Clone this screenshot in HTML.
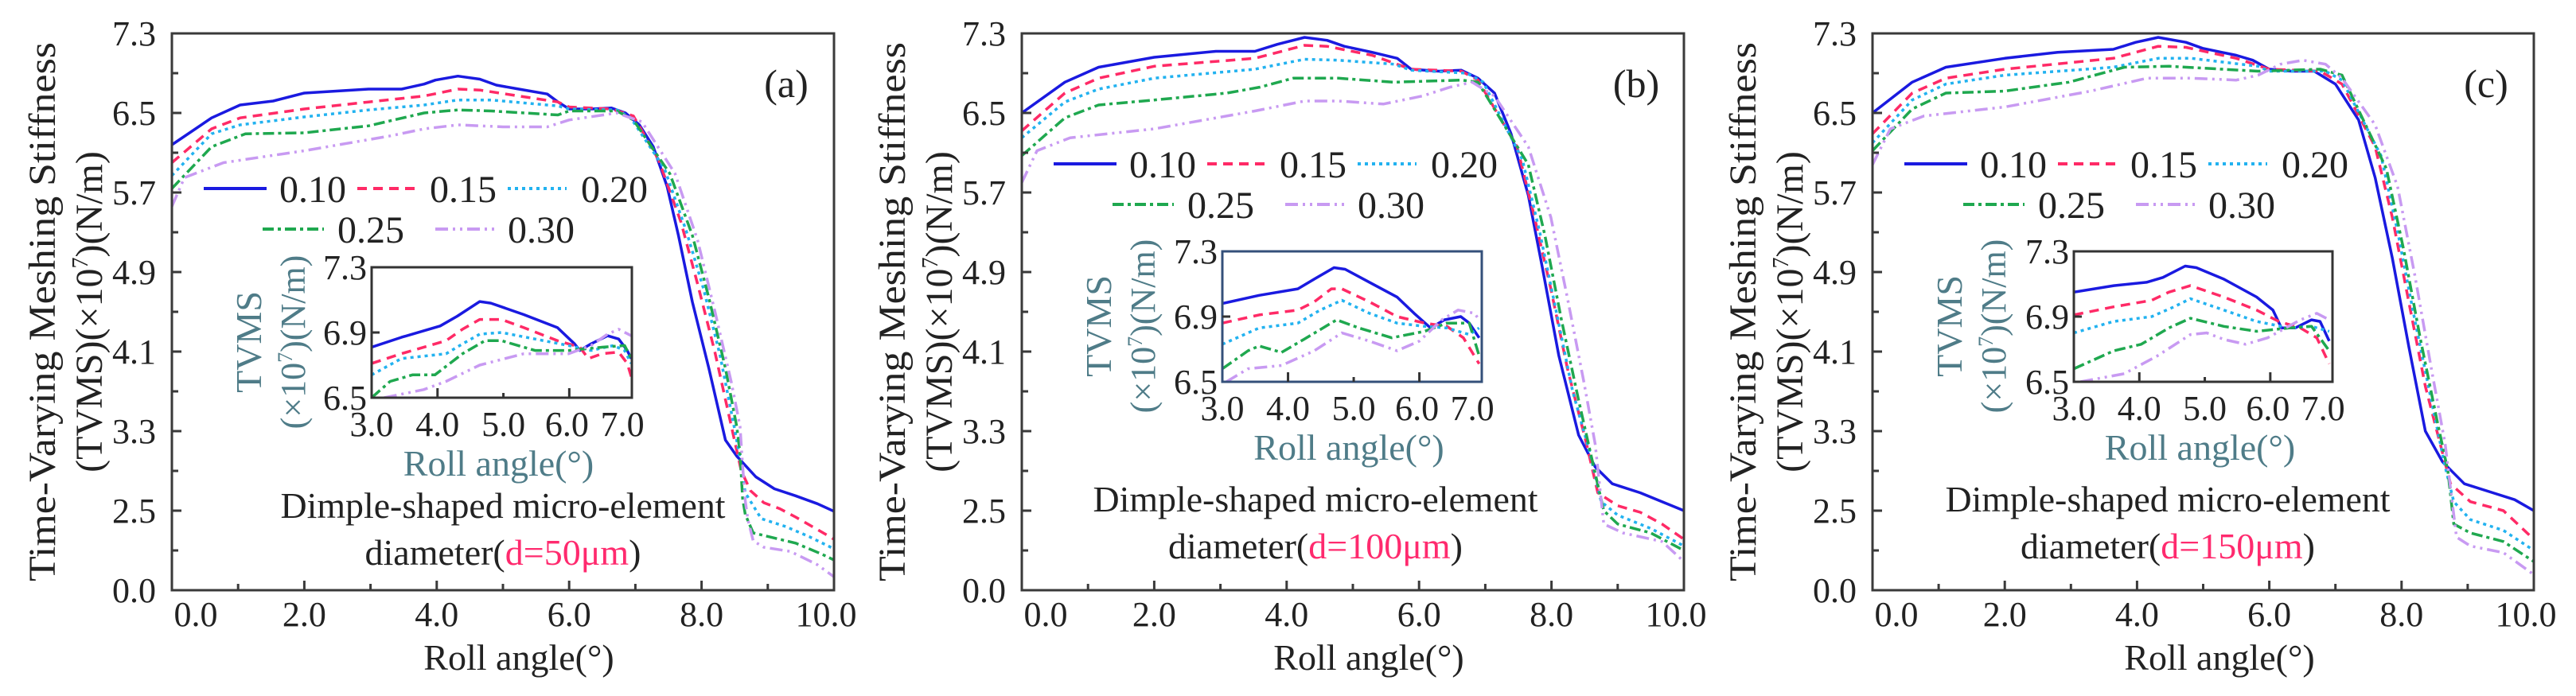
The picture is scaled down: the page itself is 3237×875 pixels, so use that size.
<!DOCTYPE html>
<html><head><meta charset="utf-8"><style>
html,body{margin:0;padding:0;background:#fff;}
svg{display:block;font-family:"Liberation Serif",serif;}
</style></head><body>
<svg id="fig" width="3237" height="875" viewBox="0 0 3237 875" xmlns="http://www.w3.org/2000/svg"></svg>
<script>
// ---------- data ----------
const seriesKeys = ["0.10","0.15","0.20","0.25","0.30"];
const yTickLabels = ["0.0","2.5","3.3","4.1","4.9","5.7","6.5","7.3"];
const xTickLabels = ["0.0","2.0","4.0","6.0","8.0","10.0"];
const insetXTickLabels = ["3.0","4.0","5.0","6.0","7.0"];
const insetYTickLabels = ["6.5","6.9","7.3"];
const panelTags = ["(a)","(b)","(c)"];
const diameters = ["d=50μm","d=100μm","d=150μm"];

const a10=[[0,6.18],[0.6,6.45],[1.03,6.58],[1.53,6.62],[2.0,6.70],[2.97,6.74],[3.47,6.74],[3.81,6.79],[3.98,6.83],[4.32,6.87],[4.65,6.84],[4.9,6.78],[5.24,6.74],[5.67,6.69],[5.83,6.61],[6.0,6.54],[6.34,6.54],[6.64,6.55],[6.85,6.50],[7.06,6.38],[7.27,6.16],[7.48,5.76],[7.65,5.27],[7.86,4.60],[8.11,3.93],[8.36,3.21],[8.53,3.05],[8.82,2.84],[9.1,2.72],[9.42,2.65],[9.75,2.57],[10,2.48]];
const a15=[[0,6.0],[0.6,6.34],[1.03,6.45],[2.0,6.54],[2.97,6.61],[3.81,6.67],[4.32,6.74],[4.65,6.73],[5.24,6.67],[5.83,6.61],[6.0,6.56],[6.64,6.54],[6.97,6.47],[7.35,6.03],[7.69,5.40],[7.94,4.78],[8.2,4.1],[8.45,3.35],[8.6,2.9],[8.74,2.7],[8.94,2.58],[9.18,2.52],[9.42,2.3],[9.63,2.05],[9.88,1.75],[10,1.6]];
const a20=[[0,5.87],[0.6,6.29],[1.03,6.38],[2,6.46],[2.97,6.53],[3.81,6.58],[4.32,6.63],[4.82,6.63],[5.83,6.57],[6.0,6.54],[6.72,6.53],[6.93,6.45],[7.44,5.94],[7.77,5.31],[8.03,4.73],[8.28,4.06],[8.49,3.35],[8.58,3.03],[8.66,2.68],[8.9,2.25],[9.27,2.0],[9.63,1.68],[10,1.3]];
const a25=[[0,5.74],[0.6,6.16],[1.11,6.29],[2,6.30],[2.97,6.37],[3.81,6.50],[4.32,6.53],[4.82,6.52],[5.83,6.48],[6.0,6.52],[6.72,6.52],[6.97,6.43],[7.52,5.89],[7.86,5.27],[8.11,4.64],[8.36,3.93],[8.53,3.35],[8.58,3.08],[8.62,2.62],[8.66,2.38],[8.78,1.8],[9.02,1.68],[9.42,1.48],[9.82,1.13],[10,0.95]];
const a30=[[0,5.56],[0.19,5.85],[0.78,6.0],[2,6.12],[3.3,6.27],[3.81,6.34],[4.32,6.38],[5.0,6.36],[5.67,6.36],[6.0,6.43],[6.72,6.5],[7.1,6.41],[7.6,5.89],[7.94,5.22],[8.2,4.51],[8.45,3.79],[8.58,3.35],[8.62,2.95],[8.66,2.6],[8.7,2.22],[8.78,1.55],[8.94,1.35],[9.34,1.22],[9.75,0.8],[10,0.42]];

const b10=[[0,6.50],[0.65,6.81],[1.16,6.96],[2.0,7.06],[2.93,7.12],[3.52,7.12],[3.86,7.19],[4.27,7.26],[4.61,7.23],[4.87,7.17],[5.29,7.11],[5.67,7.05],[5.88,6.94],[6.3,6.92],[6.64,6.93],[6.89,6.85],[7.14,6.7],[7.39,6.29],[7.65,5.67],[7.86,4.95],[8.11,4.06],[8.41,3.26],[8.66,2.94],[8.92,2.77],[9.34,2.68],[9.67,2.59],[10,2.5]];
const b15=[[0,6.32],[0.65,6.70],[1.16,6.85],[2.0,6.97],[3.52,7.05],[4.27,7.18],[4.61,7.17],[5.29,7.08],[5.88,6.94],[6.64,6.92],[6.89,6.83],[7.48,6.16],[7.73,5.49],[7.99,4.73],[8.24,3.93],[8.53,3.17],[8.7,2.68],[9.0,2.55],[9.34,2.45],[9.67,2.08],[10,1.6]];
const b20=[[0,6.25],[0.65,6.61],[1.16,6.74],[2.0,6.85],[3.52,6.94],[4.27,7.04],[4.78,7.03],[5.62,6.99],[5.88,6.93],[6.72,6.9],[6.97,6.81],[7.56,6.03],[7.82,5.31],[8.07,4.51],[8.32,3.7],[8.58,3.08],[8.75,2.59],[9.0,2.36],[9.5,1.94],[10,1.39]];
const b25=[[0,6.07],[0.65,6.45],[1.16,6.58],[2.0,6.63],[3.1,6.70],[3.6,6.76],[4.1,6.85],[4.78,6.85],[5.62,6.81],[6.64,6.83],[6.89,6.81],[7.65,5.98],[7.9,5.27],[8.15,4.42],[8.41,3.61],[8.62,2.99],[8.79,2.5],[9.0,2.08],[9.5,1.8],[10,1.25]];
const b30=[[0,5.8],[0.23,6.12],[0.73,6.25],[2,6.34],[3.52,6.52],[4.27,6.62],[4.78,6.62],[5.46,6.59],[6.05,6.67],[6.47,6.76],[6.8,6.81],[7.14,6.67],[7.65,6.16],[7.99,5.45],[8.24,4.64],[8.49,3.79],[8.66,3.17],[8.79,2.08],[9.08,1.8],[9.67,1.53],[10,0.9]];

const c10=[[0,6.5],[0.6,6.81],[1.11,6.96],[2,7.05],[2.8,7.11],[3.64,7.14],[3.98,7.21],[4.32,7.26],[4.74,7.21],[4.99,7.15],[5.5,7.08],[5.75,7.03],[6.0,6.94],[6.34,6.92],[6.68,6.92],[7.0,6.79],[7.35,6.43],[7.6,5.85],[7.86,5.04],[8.11,4.15],[8.36,3.3],[8.62,2.99],[8.95,2.77],[9.38,2.68],[9.71,2.61],[10,2.5]];
const c15=[[0,6.29],[0.6,6.70],[1.11,6.85],[2,6.94],[3.64,7.05],[4.32,7.17],[4.74,7.16],[5.5,7.05],[6.0,6.94],[6.77,6.92],[7.1,6.79],[7.6,6.16],[7.86,5.45],[8.11,4.6],[8.36,3.75],[8.62,3.08],[8.74,2.77],[9.04,2.59],[9.54,2.5],[10,1.6]];
const c20=[[0,6.2],[0.6,6.63],[1.11,6.79],[2,6.88],[3.64,6.96],[4.32,7.05],[4.82,7.05],[5.83,6.97],[6.0,6.92],[6.85,6.92],[7.1,6.83],[7.69,6.07],[7.94,5.31],[8.2,4.42],[8.45,3.61],[8.66,2.94],[8.79,2.59],[9.04,2.22],[9.54,1.88],[10,1.25]];
const c25=[[0,6.12],[0.6,6.54],[1.11,6.70],[2,6.72],[2.97,6.81],[3.81,6.96],[4.49,6.97],[5.83,6.92],[6.77,6.94],[7.1,6.88],[7.77,5.94],[8.03,5.13],[8.28,4.24],[8.53,3.43],[8.7,2.9],[8.79,2.08],[9.04,1.8],[9.54,1.53],[10,0.9]];
const c30=[[0,5.98],[0.27,6.34],[0.78,6.47],[2,6.56],[3.3,6.72],[4.15,6.85],[4.82,6.85],[5.5,6.83],[5.83,6.88],[6.17,6.99],[6.51,7.03],[6.85,6.99],[7.1,6.85],[7.6,6.38],[7.94,5.76],[8.2,4.87],[8.45,3.93],[8.66,3.17],[8.83,1.67],[9.04,1.39],[9.54,1.18],[10,0.49]];

const ia10=[[3.0,6.81],[3.45,6.87],[4.04,6.94],[4.30,7.0],[4.64,7.09],[4.81,7.08],[5.31,7.01],[5.82,6.93],[6.08,6.83],[6.16,6.79],[6.33,6.83],[6.58,6.88],[6.75,6.86],[6.88,6.79],[6.94,6.74]];
const ia15=[[3.0,6.71],[3.45,6.77],[4.13,6.85],[4.38,6.92],[4.64,6.98],[4.97,6.98],[5.31,6.93],[5.82,6.85],[6.16,6.81],[6.29,6.74],[6.5,6.77],[6.75,6.78],[6.88,6.71],[6.94,6.63]];
const ia20=[[3.0,6.64],[3.45,6.74],[4.13,6.77],[4.38,6.83],[4.64,6.89],[4.97,6.9],[5.48,6.86],[5.99,6.82],[6.33,6.79],[6.67,6.82],[6.84,6.79],[6.94,6.71]];
const ia25=[[3.0,6.5],[3.28,6.6],[3.62,6.64],[3.96,6.64],[4.38,6.77],[4.72,6.85],[4.97,6.85],[5.48,6.79],[5.99,6.79],[6.5,6.81],[6.84,6.82],[6.94,6.74]];
const ia30=[[3.19,6.5],[3.79,6.55],[4.13,6.6],[4.64,6.7],[5.31,6.77],[5.99,6.77],[6.33,6.82],[6.58,6.89],[6.75,6.92],[6.94,6.88]];

const ib10=[[3.0,6.98],[3.56,7.03],[4.15,7.07],[4.40,7.13],[4.70,7.2],[4.87,7.19],[5.24,7.11],[5.66,7.02],[5.92,6.92],[6.17,6.83],[6.38,6.88],[6.63,6.9],[6.76,6.86],[6.91,6.77]];
const ib15=[[3.0,6.86],[3.56,6.91],[4.15,6.94],[4.40,6.99],[4.66,7.07],[4.82,7.07],[5.24,6.99],[5.66,6.9],[6.08,6.86],[6.42,6.84],[6.67,6.77],[6.91,6.61]];
const ib20=[[3.0,6.73],[3.56,6.83],[4.15,6.86],[4.49,6.94],[4.82,7.0],[5.24,6.92],[5.66,6.86],[6.08,6.84],[6.42,6.83],[6.76,6.79],[6.91,6.83]];
const ib25=[[3.0,6.58],[3.39,6.69],[3.56,6.72],[3.9,6.68],[4.24,6.76],[4.74,6.88],[5.08,6.83],[5.58,6.77],[6.08,6.81],[6.42,6.86],[6.76,6.86],[6.91,6.66]];
const ib30=[[3.06,6.5],[3.39,6.58],[3.9,6.6],[4.4,6.69],[4.82,6.8],[5.24,6.75],[5.66,6.69],[6.0,6.75],[6.34,6.88],[6.59,6.94],[6.84,6.92],[6.91,6.88]];

const ic10=[[3,7.05],[3.61,7.09],[4.11,7.11],[4.36,7.14],[4.7,7.21],[4.87,7.2],[5.29,7.13],[5.79,7.02],[6.04,6.94],[6.17,6.83],[6.38,6.83],[6.63,6.88],[6.76,6.87],[6.9,6.75]];
const ic15=[[3,6.91],[3.61,6.96],[4.19,7.0],[4.45,7.05],[4.78,7.09],[5.29,7.02],[5.79,6.94],[6.13,6.87],[6.46,6.83],[6.71,6.77],[6.9,6.61]];
const ic20=[[3,6.8],[3.61,6.87],[4.19,6.9],[4.53,6.96],[4.78,7.01],[5.29,6.94],[5.79,6.87],[6.29,6.83],[6.63,6.84],[6.9,6.81]];
const ic25=[[3,6.58],[3.61,6.69],[4.03,6.73],[4.45,6.83],[4.78,6.89],[5.29,6.84],[5.79,6.81],[6.29,6.83],[6.63,6.84],[6.9,6.69]];
const ic30=[[3.1,6.5],[3.77,6.55],[4.28,6.66],[4.78,6.79],[5.03,6.8],[5.29,6.76],[5.62,6.73],[5.96,6.77],[6.46,6.88],[6.71,6.92],[6.9,6.88]];

// ---------- layout ----------
const NS="http://www.w3.org/2000/svg";
const svg=document.getElementById('fig');
const styles=[
 {c:"#1a1ae0",d:"",w:3.5},
 {c:"#ff2a66",d:"12 8",w:3.5},
 {c:"#22b2f0",d:"4 5",w:3.5},
 {c:"#1fa84f",d:"14 5 4 5",w:3.5},
 {c:"#c89af2",d:"16 6 3 6 3 6",w:3.5}
];
const panels=[
 {L:216,R:1048,main:[a10,a15,a20,a25,a30],ins:[ia10,ia15,ia20,ia25,ia30],ix0:467,ix1:794,iy0:336,iy1:500,legY:237,noteX:632,noteY:636},
 {L:1284,R:2116,main:[b10,b15,b20,b25,b30],ins:[ib10,ib15,ib20,ib25,ib30],ix0:1536,ix1:1862,iy0:316,iy1:480,legY:206,noteX:1653,noteY:628},
 {L:2353,R:3184,main:[c10,c15,c20,c25,c30],ins:[ic10,ic15,ic20,ic25,ic30],ix0:2606,ix1:2931,iy0:316,iy1:480,legY:206,noteX:2724,noteY:628}
];
const TOP=42,BOT=742;
function el(tag,attrs,parent){const e=document.createElementNS(NS,tag);for(const k in attrs)e.setAttribute(k,attrs[k]);(parent||svg).appendChild(e);return e;}
function yMain(v){const step=(BOT-TOP)/7;return v>=2.5?TOP+(7.3-v)/0.8*step:BOT-step+(2.5-v)/2.5*step;}

panels.forEach((p,pi)=>{
  const g=el('g',{});
  
  
  const xm=x=>p.L+(x/10)*(p.R-p.L);
  // curves
  p.main.forEach((s,si)=>{
    const pts=s.map(q=>xm(q[0]).toFixed(1)+','+yMain(q[1]).toFixed(1)).join(' ');
    const pl=el('polyline',{points:pts,fill:'none',stroke:styles[si].c,'stroke-width':styles[si].w,'stroke-dasharray':styles[si].d,'stroke-linejoin':'round'},g);
    
    
  });
  // axes frame
  const fr=el('rect',{x:p.L,y:TOP,width:p.R-p.L,height:BOT-TOP,fill:'none',stroke:'#3a3a3a','stroke-width':3},g);
  
  
  // y ticks
  const step=(BOT-TOP)/7;
  yTickLabels.forEach((lab,i)=>{
    const y=BOT-i*step;
    el('line',{x1:p.L,x2:p.L+12,y1:y,y2:y,stroke:'#3a3a3a','stroke-width':3},g);
    if(i<7) el('line',{x1:p.L,x2:p.L+8,y1:y-step/2,y2:y-step/2,stroke:'#3a3a3a','stroke-width':3},g);
    const t=el('text',{x:p.L-20,y:y+15,'text-anchor':'end','font-size':44,fill:'#222'},g);
    t.textContent=lab;
    
    
  });
  // x ticks
  xTickLabels.forEach((lab,i)=>{
    const v=i*2, x=xm(v);
    if(i>0&&i<5) el('line',{x1:x,x2:x,y1:BOT,y2:BOT-12,stroke:'#3a3a3a','stroke-width':3},g);
    if(i<5) el('line',{x1:xm(v+1),x2:xm(v+1),y1:BOT,y2:BOT-8,stroke:'#3a3a3a','stroke-width':3},g);
    const tx=i===0?x+30:(i===5?x-10:x);
    const t=el('text',{x:tx,y:787,'text-anchor':'middle','font-size':44,fill:'#222'},g);
    t.textContent=lab;
    
    
  });
  // axis titles
  const xt=el('text',{x:p.L+436,y:842,'text-anchor':'middle','font-size':46,fill:'#222'},g);
  xt.textContent='Roll angle(°)';
  
  
  const yt1=el('text',{x:0,y:0,'text-anchor':'middle','font-size':48,fill:'#222',transform:`translate(${p.L-147},392) rotate(-90)`,textLength:678,lengthAdjust:'spacingAndGlyphs'},g);
  yt1.textContent='Time-Varying Meshing Stiffness';
  
  
  const yt2=el('text',{x:0,y:0,'text-anchor':'middle','font-size':48,fill:'#222',transform:`translate(${p.L-88},392) rotate(-90)`},g);
  yt2.innerHTML='(TVMS)(×10<tspan font-size="28" dy="-18">7</tspan><tspan dy="18">)(N/m)</tspan>';
  
  
  // panel tag
  const tag=el('text',{x:p.R-60,y:122,'text-anchor':'middle','font-size':50,fill:'#222'},g);
  tag.textContent=panelTags[pi];
  
  
  // legend
  const lg=el('g',{},g);
  
  
  const legPos=[[40,119,135,0],[233,307,324,0],[422,496,514,0],[114,191,208,1],[331,408,422,1]];
  legPos.forEach((lp,si)=>{
    const y=p.legY+lp[3]*51;
    el('line',{x1:p.L+lp[0],x2:p.L+lp[1],y1:y,y2:y,stroke:styles[si].c,'stroke-width':4,'stroke-dasharray':styles[si].d},lg);
    const t=el('text',{x:p.L+lp[2],y:y+17,'font-size':48,fill:'#222'},lg);
    t.textContent=seriesKeys[si];
    
    
  });
  // inset
  const ig=el('g',{},g);
  
  
  const xi=x=>p.ix0+(x-3)/3.95*(p.ix1-p.ix0);
  const yi=v=>p.iy1-(v-6.5)/0.8*(p.iy1-p.iy0);
  const cid='clip'+pi;
  const cp=el('clipPath',{id:cid},ig);
  el('rect',{x:p.ix0,y:p.iy0,width:p.ix1-p.ix0,height:p.iy1-p.iy0},cp);
  el('rect',{x:p.ix0,y:p.iy0,width:p.ix1-p.ix0,height:p.iy1-p.iy0,fill:'#fff'},ig);
  p.ins.forEach((s,si)=>{
    const pts=s.map(q=>xi(q[0]).toFixed(1)+','+yi(q[1]).toFixed(1)).join(' ');
    const pl=el('polyline',{points:pts,fill:'none',stroke:styles[si].c,'stroke-width':3.5,'stroke-dasharray':styles[si].d,'stroke-linejoin':'round','clip-path':`url(#${cid})`},ig);
    
    
  });
  const ifr=el('rect',{x:p.ix0,y:p.iy0,width:p.ix1-p.ix0,height:p.iy1-p.iy0,fill:'none',stroke:pi===1?'#34507a':'#333','stroke-width':3},ig);
  
  
  insetYTickLabels.forEach((lab,i)=>{
    const v=parseFloat(lab), y=yi(v);
    if(i===1) el('line',{x1:p.ix0,x2:p.ix0+10,y1:y,y2:y,stroke:'#333','stroke-width':3},ig);
    const t=el('text',{x:p.ix0-6,y:y+15,'text-anchor':'end','font-size':44,fill:'#222'},ig);
    t.textContent=lab;
    
    
  });
  insetXTickLabels.forEach((lab,i)=>{
    const v=parseFloat(lab), x=xi(v);
    if(i>0&&i<4) el('line',{x1:x,x2:x,y1:p.iy1,y2:p.iy1-(i===2?6:12),stroke:'#333','stroke-width':3},ig);
    const tx=i===4?x-16:(i===3?x-3:x);
    const t=el('text',{x:tx,y:p.iy1+48,'text-anchor':'middle','font-size':44,fill:'#222'},ig);
    t.textContent=lab;
    
    
  });
  const ixt=el('text',{x:(p.ix0+p.ix1)/2-4,y:p.iy1+98,'text-anchor':'middle','font-size':46,fill:'#4f7c88'},ig);
  ixt.textContent='Roll angle(°)';
  
  
  const icy=(p.iy0+p.iy1)/2+12;
  const iyt1=el('text',{x:0,y:0,'text-anchor':'middle','font-size':46,fill:'#4f7c88',transform:`translate(${p.L+112},${icy}) rotate(-90)`},ig);
  iyt1.textContent='TVMS';
  
  
  const iyt2=el('text',{x:0,y:0,'text-anchor':'middle','font-size':44,fill:'#4f7c88',transform:`translate(${p.L+167},${icy}) rotate(-90)`},ig);
  iyt2.innerHTML='(×10<tspan font-size="26" dy="-16">7</tspan><tspan dy="16">)(N/m)</tspan>';
  
  
  // note
  const n1=el('text',{x:p.noteX,y:p.noteY+15,'text-anchor':'middle','font-size':46,fill:'#222',textLength:559,lengthAdjust:'spacingAndGlyphs'},g);
  n1.textContent='Dimple-shaped micro-element';
  
  
  const n2=el('text',{x:p.noteX,y:p.noteY+74,'text-anchor':'middle','font-size':46,fill:'#222'},g);
  n2.innerHTML='diameter(<tspan fill="#ff2a6e">'+diameters[pi]+'</tspan>)';
  
  
});
</script>
</body></html>
